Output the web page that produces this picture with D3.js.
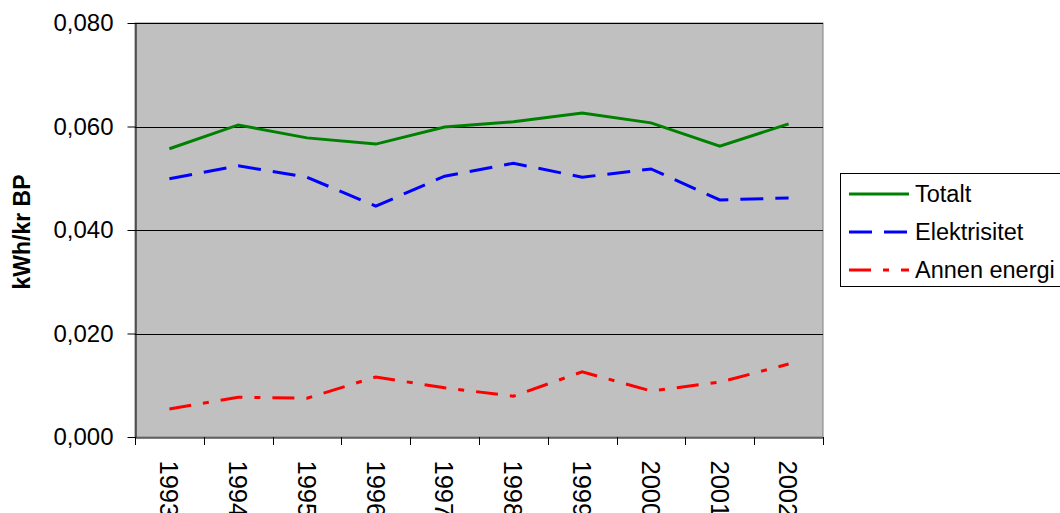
<!DOCTYPE html>
<html>
<head>
<meta charset="utf-8">
<script src="https://cdn.jsdelivr.net/npm/d3@7"></script>
<style>
  body { margin: 0; background: #fff; }
  svg { display: block; font-family: "Liberation Sans", Arial, sans-serif; }
</style>
</head>
<body>
<div id="chart"></div>
<script>
const years = ['1993', '1994', '1995', '1996', '1997', '1998', '1999', '2000', '2001', '2002'];
const totalt = [0.0557, 0.0603, 0.0578, 0.0566, 0.0599, 0.0609, 0.0626, 0.0607, 0.0562, 0.0605];
const elektrisitet = [0.0499, 0.0524, 0.0502, 0.0446, 0.0504, 0.0529, 0.0502, 0.0518, 0.0458, 0.0462];
const annenEnergi = [0.0054, 0.0077, 0.0075, 0.0116, 0.0095, 0.0079, 0.0126, 0.0089, 0.0106, 0.0141];
const yTicks = [0, 0.02, 0.04, 0.06, 0.08];

const series = [
    {name: 'Totalt', values: totalt, color: '#008000', dash: null},
    {name: 'Elektrisitet', values: elektrisitet, color: '#0000ff', dash: '23,12'},
    {name: 'Annen energi', values: annenEnergi, color: '#ff0000', dash: '22,12,6,12'}
];

const W = 1060, H = 513;
const plot = {left: 135, right: 823, top: 23, bottom: 437};
const FONT = '"Liberation Sans", Arial, sans-serif';

const svg = d3.select('#chart').append('svg')
    .attr('width', W)
    .attr('height', H);

const x = d3.scaleBand().domain(years).range([plot.left, plot.right]);
const y = d3.scaleLinear().domain([0, 0.08]).range([plot.bottom, plot.top]);

// plot background
svg.append('rect')
    .attr('x', plot.left).attr('y', plot.top)
    .attr('width', plot.right - plot.left).attr('height', plot.bottom - plot.top)
    .attr('fill', '#c0c0c0')
    .attr('stroke', '#808080')
    .attr('stroke-width', 1);

// gridlines
svg.append('g')
    .selectAll('line')
    .data(yTicks.filter(d => d > 0))
    .join('line')
    .attr('x1', plot.left).attr('x2', plot.right)
    .attr('y1', d => Math.round(y(d)) + 0.5).attr('y2', d => Math.round(y(d)) + 0.5)
    .attr('stroke', '#000')
    .attr('stroke-width', 1);

// y axis
const fmt = d => d3.format('.3f')(d).replace('.', ',');
const yAxis = svg.append('g')
    .attr('transform', `translate(${plot.left + 0.5},0)`)
    .call(d3.axisLeft(y).tickValues(yTicks).tickFormat(fmt).tickSize(8).tickSizeOuter(0));
yAxis.select('.domain').attr('stroke', '#000');
yAxis.selectAll('.tick line').attr('stroke', '#000');
yAxis.selectAll('.tick text')
    .attr('x', -22)
    .attr('font-size', 24)
    .attr('font-family', FONT)
    .attr('fill', '#000');

// x axis
const xAxis = svg.append('g')
    .attr('transform', `translate(0,${plot.bottom + 0.5})`)
    .call(d3.axisBottom(x).tickSize(0).tickSizeOuter(0));
xAxis.select('.domain').attr('stroke', '#000');
xAxis.selectAll('.tick text')
    .attr('font-size', 25.5)
    .attr('font-family', FONT)
    .attr('fill', '#000')
    .attr('text-anchor', 'start')
    .attr('y', 0)
    .attr('x', 0)
    .attr('dy', '0.36em')
    .attr('transform', 'translate(0,23) rotate(90)');

// tick marks between categories
svg.append('g')
    .selectAll('line')
    .data(d3.range(years.length + 1))
    .join('line')
    .attr('x1', i => Math.round(plot.left + i * x.step()) + 0.5)
    .attr('x2', i => Math.round(plot.left + i * x.step()) + 0.5)
    .attr('y1', plot.bottom)
    .attr('y2', plot.bottom + 8)
    .attr('stroke', '#000');

// y axis title
svg.append('text')
    .attr('transform', `translate(30,${232}) rotate(-90)`)
    .attr('text-anchor', 'middle')
    .attr('font-size', 23)
    .attr('font-weight', 'bold')
    .text('kWh/kr BP');

// lines
const line = d3.line()
    .x((d, i) => x(years[i]) + x.bandwidth() / 2)
    .y(d => y(d));

svg.append('g')
    .selectAll('path')
    .data(series)
    .join('path')
    .attr('d', d => line(d.values))
    .attr('fill', 'none')
    .attr('stroke', d => d.color)
    .attr('stroke-width', 3)
    .attr('stroke-dasharray', d => d.dash);

// legend
const legend = svg.append('g').attr('transform', 'translate(840,173)');
legend.append('rect')
    .attr('x', 0.5).attr('y', 0.5)
    .attr('width', 240).attr('height', 113)
    .attr('fill', '#fff')
    .attr('stroke', '#000');

const item = legend.selectAll('g.item')
    .data(series)
    .join('g')
    .attr('class', 'item')
    .attr('transform', (d, i) => `translate(0,${21 + i * 38})`);

item.append('line')
    .attr('x1', 9).attr('x2', 69)
    .attr('y1', 0).attr('y2', 0)
    .attr('stroke', d => d.color)
    .attr('stroke-width', 3)
    .attr('stroke-dasharray', d => d.dash);

item.append('text')
    .attr('x', 75)
    .attr('y', 8)
    .attr('font-size', 23.5)
    .text(d => d.name);
</script>
</body>
</html>
